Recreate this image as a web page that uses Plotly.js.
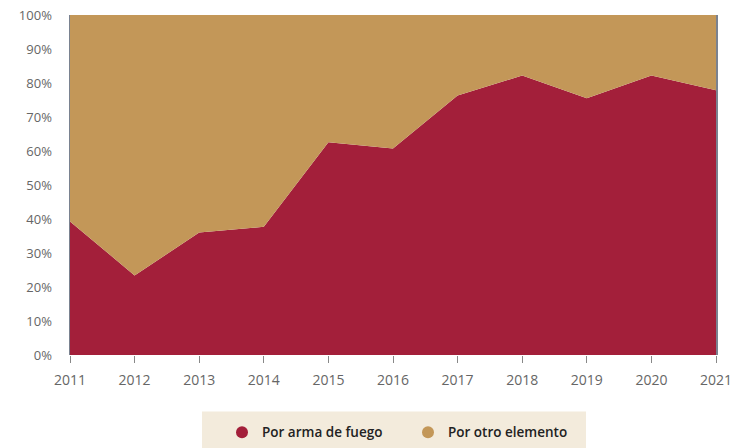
<!DOCTYPE html>
<html>
<head>
<meta charset="utf-8">
<script src="https://cdn.plot.ly/plotly-3.0.1.min.js"></script>
<style>html,body{margin:0;padding:0;background:#fff;}#chart{width:734px;height:448px;}</style>
</head>
<body>
<div id="chart"></div>
<script>
const years = [2011, 2012, 2013, 2014, 2015, 2016, 2017, 2018, 2019, 2020, 2021];
const armaFuego = [39.3, 23.4, 36.0, 37.7, 62.6, 60.7, 76.3, 82.2, 75.5, 82.2, 77.9];
const otroElemento = [60.7, 76.6, 64.0, 62.3, 37.4, 39.3, 23.7, 17.8, 24.5, 17.8, 22.1];
const seriesNames = ["Por arma de fuego", "Por otro elemento"];
const yTicks = [0, 10, 20, 30, 40, 50, 60, 70, 80, 90, 100];

const RED = "#A31F3A";
const GOLD = "#C39758";
const FONT = "'Open Sans', 'Noto Sans', sans-serif";

const traces = [
  {x: years, y: armaFuego, name: seriesNames[0], type: "scatter", mode: "lines",
   stackgroup: "one", fillcolor: RED, line: {width: 0, color: RED}, showlegend: false, hoverinfo: "skip"},
  {x: years, y: otroElemento, name: seriesNames[1], type: "scatter", mode: "lines",
   stackgroup: "one", fillcolor: GOLD, line: {width: 0, color: GOLD}, showlegend: false, hoverinfo: "skip"},
  {x: [null], y: [null], name: seriesNames[0], type: "scatter", mode: "markers",
   marker: {color: RED, size: 16, symbol: "circle"}, showlegend: true},
  {x: [null], y: [null], name: seriesNames[1], type: "scatter", mode: "markers",
   marker: {color: GOLD, size: 16, symbol: "circle"}, showlegend: true}
];

const layout = {
  width: 734, height: 448,
  margin: {l: 70, r: 18, t: 15, b: 92.5, pad: 0, autoexpand: false},
  paper_bgcolor: "#fff", plot_bgcolor: "#fff",
  font: {family: FONT, size: 13, color: "#666"},
  showlegend: true,
  xaxis: {
    range: [2011, 2021], tickvals: years, ticktext: years.map(String),
    ticks: "outside", ticklen: 7, tickcolor: "#888", tickwidth: 1,
    showgrid: false, zeroline: false, showline: false, automargin: false,
    tickfont: {family: FONT, size: 14, color: "#666"}, ticklabelstandoff: 5
  },
  yaxis: {
    range: [0, 100], tickvals: yTicks, ticktext: yTicks.map(v => v + "%"),
    showgrid: false, zeroline: false, showline: true, linecolor: "#7a8290", linewidth: 1.5,
    mirror: true, ticks: "", automargin: false,
    tickfont: {family: FONT, size: 13, color: "#666"},
    ticklabelstandoff: 14
  },
  shapes: [
    {type: "rect", xref: "paper", yref: "paper",
     x0: (202 - 70) / 646, x1: (586 - 70) / 646,
     y0: (355.5 - 452) / 340.5, y1: (355.5 - 412) / 340.5,
     fillcolor: "#F3EBDC", line: {width: 0}, layer: "below"}
  ],
  legend: {
    orientation: "h", x: (222 - 70) / 646, xanchor: "left",
    y: (355.5 - 433) / 340.5, yanchor: "middle", yref: "paper",
    bgcolor: "rgba(0,0,0,0)",
    font: {family: FONT, size: 13.5, color: "#222", weight: 600},
    itemsizing: "constant", entrywidth: 141, entrywidthmode: "pixels",
    traceorder: "normal"
  }
};

Plotly.newPlot("chart", traces, layout, {displayModeBar: false, staticPlot: true});
</script>
</body>
</html>
